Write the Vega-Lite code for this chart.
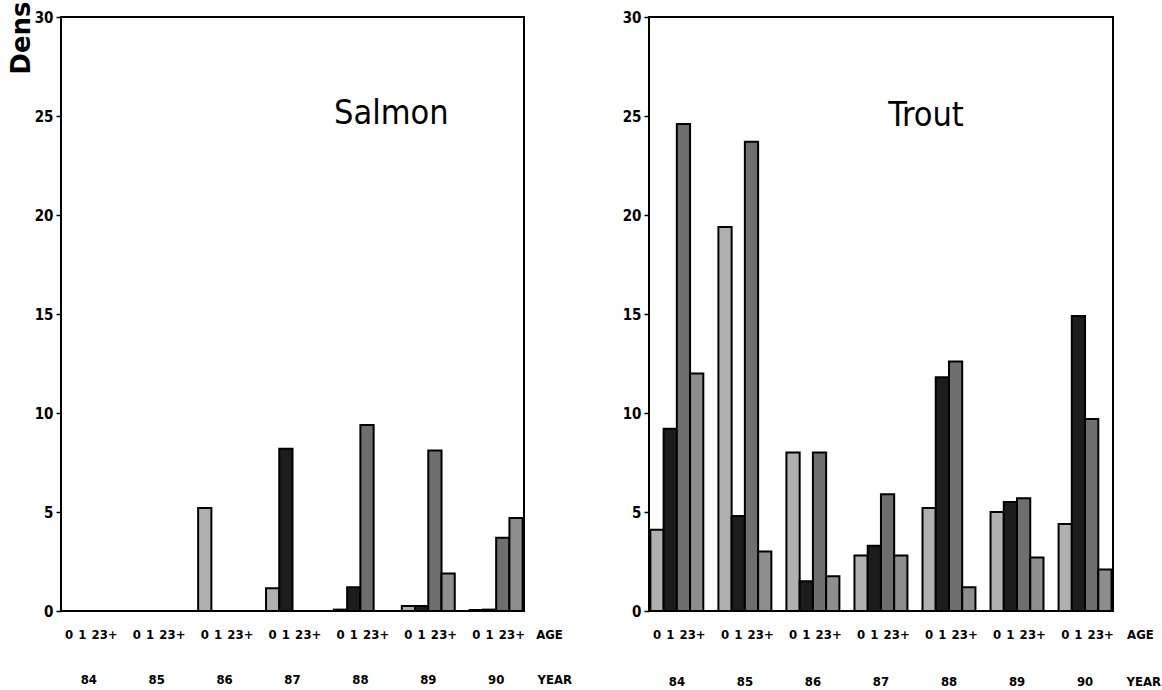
{
  "$schema": "https://vega.github.io/schema/vega-lite/v6.json",
  "background": "white",
  "padding": {"left": 7, "top": 0, "right": 0, "bottom": 0},
  "spacing": 125,
  "bounds": "flush",
  "config": {
    "view": {"stroke": "black", "strokeWidth": 2},
    "font": "'DejaVu Sans Condensed', 'Liberation Sans', sans-serif"
  },
  "datasets": {
    "fish": [
      {"species": "Salmon", "year": "84", "age": "0", "value": 0},
      {"species": "Salmon", "year": "84", "age": "1", "value": 0},
      {"species": "Salmon", "year": "84", "age": "2", "value": 0},
      {"species": "Salmon", "year": "84", "age": "3+", "value": 0},
      {"species": "Salmon", "year": "85", "age": "0", "value": 0},
      {"species": "Salmon", "year": "85", "age": "1", "value": 0},
      {"species": "Salmon", "year": "85", "age": "2", "value": 0},
      {"species": "Salmon", "year": "85", "age": "3+", "value": 0},
      {"species": "Salmon", "year": "86", "age": "0", "value": 5.2},
      {"species": "Salmon", "year": "86", "age": "1", "value": 0},
      {"species": "Salmon", "year": "86", "age": "2", "value": 0},
      {"species": "Salmon", "year": "86", "age": "3+", "value": 0},
      {"species": "Salmon", "year": "87", "age": "0", "value": 1.15},
      {"species": "Salmon", "year": "87", "age": "1", "value": 8.2},
      {"species": "Salmon", "year": "87", "age": "2", "value": 0},
      {"species": "Salmon", "year": "87", "age": "3+", "value": 0},
      {"species": "Salmon", "year": "88", "age": "0", "value": 0.07},
      {"species": "Salmon", "year": "88", "age": "1", "value": 1.2},
      {"species": "Salmon", "year": "88", "age": "2", "value": 9.4},
      {"species": "Salmon", "year": "88", "age": "3+", "value": 0},
      {"species": "Salmon", "year": "89", "age": "0", "value": 0.25},
      {"species": "Salmon", "year": "89", "age": "1", "value": 0.25},
      {"species": "Salmon", "year": "89", "age": "2", "value": 8.1},
      {"species": "Salmon", "year": "89", "age": "3+", "value": 1.9},
      {"species": "Salmon", "year": "90", "age": "0", "value": 0.05},
      {"species": "Salmon", "year": "90", "age": "1", "value": 0.07},
      {"species": "Salmon", "year": "90", "age": "2", "value": 3.7},
      {"species": "Salmon", "year": "90", "age": "3+", "value": 4.7},
      {"species": "Trout", "year": "84", "age": "0", "value": 4.1},
      {"species": "Trout", "year": "84", "age": "1", "value": 9.2},
      {"species": "Trout", "year": "84", "age": "2", "value": 24.6},
      {"species": "Trout", "year": "84", "age": "3+", "value": 12.0},
      {"species": "Trout", "year": "85", "age": "0", "value": 19.4},
      {"species": "Trout", "year": "85", "age": "1", "value": 4.8},
      {"species": "Trout", "year": "85", "age": "2", "value": 23.7},
      {"species": "Trout", "year": "85", "age": "3+", "value": 3.0},
      {"species": "Trout", "year": "86", "age": "0", "value": 8.0},
      {"species": "Trout", "year": "86", "age": "1", "value": 1.5},
      {"species": "Trout", "year": "86", "age": "2", "value": 8.0},
      {"species": "Trout", "year": "86", "age": "3+", "value": 1.75},
      {"species": "Trout", "year": "87", "age": "0", "value": 2.8},
      {"species": "Trout", "year": "87", "age": "1", "value": 3.3},
      {"species": "Trout", "year": "87", "age": "2", "value": 5.9},
      {"species": "Trout", "year": "87", "age": "3+", "value": 2.8},
      {"species": "Trout", "year": "88", "age": "0", "value": 5.2},
      {"species": "Trout", "year": "88", "age": "1", "value": 11.8},
      {"species": "Trout", "year": "88", "age": "2", "value": 12.6},
      {"species": "Trout", "year": "88", "age": "3+", "value": 1.2},
      {"species": "Trout", "year": "89", "age": "0", "value": 5.0},
      {"species": "Trout", "year": "89", "age": "1", "value": 5.5},
      {"species": "Trout", "year": "89", "age": "2", "value": 5.7},
      {"species": "Trout", "year": "89", "age": "3+", "value": 2.7},
      {"species": "Trout", "year": "90", "age": "0", "value": 4.4},
      {"species": "Trout", "year": "90", "age": "1", "value": 14.9},
      {"species": "Trout", "year": "90", "age": "2", "value": 9.7},
      {"species": "Trout", "year": "90", "age": "3+", "value": 2.1}
    ]
  },
  "hconcat": [
    {
      "width": 463,
      "height": 594,
      "layer": [
        {
          "data": {"name": "fish"},
          "transform": [{"filter": "datum.species === 'Salmon'"}],
          "mark": {"type": "bar", "stroke": "black", "strokeWidth": 2},
          "encoding": {
            "x": {
              "field": "year", "type": "nominal",
              "scale": {"domain": ["84", "85", "86", "87", "88", "89", "90"], "paddingInner": 0.22, "paddingOuter": 0.02},
              "axis": {
                "title": "YEAR", "titleX": 476, "titleY": 68, "titleAlign": "left", "titleBaseline": "middle",
                "titleFontSize": 13, "titleFontWeight": "bold", "titleColor": "black",
                "domain": false, "ticks": false, "tickSize": 0, "labelPadding": 68, "labelBaseline": "middle",
                "labelAngle": 0, "labelFontSize": 13, "labelFontWeight": "bold", "labelColor": "black"
              }
            },
            "xOffset": {"field": "age", "type": "nominal", "scale": {"domain": ["0", "1", "2", "3+"], "paddingInner": 0, "paddingOuter": 0}},
            "y": {
              "field": "value", "type": "quantitative",
              "scale": {"domain": [0, 30], "nice": false, "zero": true},
              "axis": {
                "values": [0, 5, 10, 15, 20, 25, 30], "grid": false, "domain": false,
                "tickSize": 5, "tickColor": "black", "tickWidth": 1.5, "labelPadding": 3,
                "labelFontSize": 15, "labelFontWeight": "bold", "labelColor": "black",
                "title": "Dens", "titleFont": "DejaVu Sans", "titleFontSize": 26, "titleFontWeight": "bold",
                "titleColor": "black", "titleAlign": "right", "titleY": -16, "titlePadding": 0
              }
            },
            "fill": {
              "field": "age", "type": "nominal",
              "scale": {"domain": ["0", "1", "2", "3+"], "range": ["#b0b0b0", "#1c1c1c", "#6e6e6e", "#8e8e8e"]},
              "legend": null
            }
          }
        },
        {
          "data": {"name": "fish"},
          "transform": [{"filter": "datum.species === 'Salmon'"}],
          "mark": {"type": "text", "baseline": "middle", "align": "center", "fontSize": 13, "fontWeight": "bold", "color": "black"},
          "encoding": {
            "x": {"field": "year", "type": "nominal"},
            "xOffset": {"field": "age", "type": "nominal"},
            "y": {"datum": -1.2, "type": "quantitative"},
            "text": {"field": "age"}
          }
        },
        {
          "data": {"values": [{"label": "AGE"}]},
          "mark": {"type": "text", "baseline": "middle", "align": "left", "dx": 40, "fontSize": 13, "fontWeight": "bold", "color": "black"},
          "encoding": {
            "x": {"datum": "90", "type": "nominal"},
            "y": {"datum": -1.2, "type": "quantitative"},
            "text": {"field": "label"}
          }
        },
        {
          "data": {"values": [{"label": "Salmon"}]},
          "mark": {"type": "text", "baseline": "middle", "align": "center", "dx": 31, "fontSize": 34, "color": "black"},
          "encoding": {
            "x": {"datum": "88", "type": "nominal"},
            "y": {"datum": 25.1, "type": "quantitative"},
            "text": {"field": "label"}
          }
        }
      ]
    },
    {
      "width": 464,
      "height": 594,
      "layer": [
        {
          "data": {"name": "fish"},
          "transform": [{"filter": "datum.species === 'Trout'"}],
          "mark": {"type": "bar", "stroke": "black", "strokeWidth": 2},
          "encoding": {
            "x": {
              "field": "year", "type": "nominal",
              "scale": {"domain": ["84", "85", "86", "87", "88", "89", "90"], "paddingInner": 0.22, "paddingOuter": 0.02},
              "axis": {
                "title": "YEAR", "titleX": 477, "titleY": 70, "titleAlign": "left", "titleBaseline": "middle",
                "titleFontSize": 13, "titleFontWeight": "bold", "titleColor": "black",
                "domain": false, "ticks": false, "tickSize": 0, "labelPadding": 70, "labelBaseline": "middle",
                "labelAngle": 0, "labelFontSize": 13, "labelFontWeight": "bold", "labelColor": "black"
              }
            },
            "xOffset": {"field": "age", "type": "nominal", "scale": {"domain": ["0", "1", "2", "3+"], "paddingInner": 0, "paddingOuter": 0}},
            "y": {
              "field": "value", "type": "quantitative",
              "scale": {"domain": [0, 30], "nice": false, "zero": true},
              "axis": {
                "values": [0, 5, 10, 15, 20, 25, 30], "grid": false, "domain": false,
                "tickSize": 5, "tickColor": "black", "tickWidth": 1.5, "labelPadding": 3,
                "labelFontSize": 15, "labelFontWeight": "bold", "labelColor": "black",
                "title": null
              }
            },
            "fill": {
              "field": "age", "type": "nominal",
              "scale": {"domain": ["0", "1", "2", "3+"], "range": ["#b0b0b0", "#1c1c1c", "#6e6e6e", "#8e8e8e"]},
              "legend": null
            }
          }
        },
        {
          "data": {"name": "fish"},
          "transform": [{"filter": "datum.species === 'Trout'"}],
          "mark": {"type": "text", "baseline": "middle", "align": "center", "fontSize": 13, "fontWeight": "bold", "color": "black"},
          "encoding": {
            "x": {"field": "year", "type": "nominal"},
            "xOffset": {"field": "age", "type": "nominal"},
            "y": {"datum": -1.2, "type": "quantitative"},
            "text": {"field": "age"}
          }
        },
        {
          "data": {"values": [{"label": "AGE"}]},
          "mark": {"type": "text", "baseline": "middle", "align": "left", "dx": 42, "fontSize": 13, "fontWeight": "bold", "color": "black"},
          "encoding": {
            "x": {"datum": "90", "type": "nominal"},
            "y": {"datum": -1.2, "type": "quantitative"},
            "text": {"field": "label"}
          }
        },
        {
          "data": {"values": [{"label": "Trout"}]},
          "mark": {"type": "text", "baseline": "middle", "align": "center", "dx": -23, "fontSize": 34, "color": "black"},
          "encoding": {
            "x": {"datum": "88", "type": "nominal"},
            "y": {"datum": 25, "type": "quantitative"},
            "text": {"field": "label"}
          }
        }
      ]
    }
  ]
}
